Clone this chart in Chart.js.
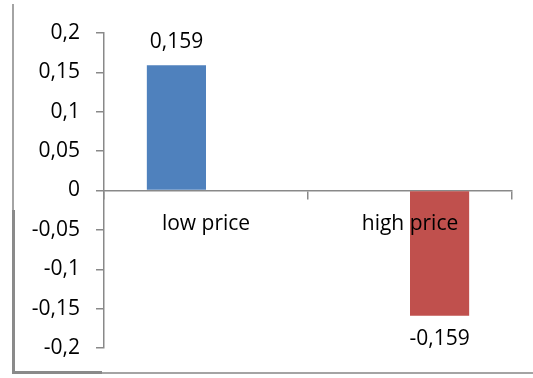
<!DOCTYPE html>
<html lang="en">
<head>
    <meta charset="utf-8">
    <script src="https://cdn.jsdelivr.net/npm/chart.js"></script>
    <title>low / high price</title>
    <style>
        html, body {
            margin: 0;
            padding: 0;
            background: white;
        }
        #wrap {
            width: 533px;
            height: 378px;
        }
    </style>
</head>
<body>
    <div id="wrap">
        <canvas id="barCanvas" width="533" height="378"></canvas>
    </div>
    <script>
        var categories = ["low price", "high price"];
        var lowValues = [0.159, null];
        var highValues = [null, -0.159];
        var yTicks = [-0.2, -0.15, -0.1, -0.05, 0, 0.05, 0.1, 0.15, 0.2];

        var axisColor = "#898989";
        var textFont = { family: "'Open Sans', sans-serif", size: 21 };

        function decimalComma(v) {
            return String(+Number(v).toFixed(3)).replace(".", ",");
        }

        // value text above positive bars and below negative ones
        var valueLabels = {
            id: "valueLabels",
            afterDatasetsDraw: function(chart) {
                var ctx = chart.ctx;
                ctx.save();
                ctx.font = textFont.size + "px " + textFont.family;
                ctx.fillStyle = "#000";
                ctx.textAlign = "center";
                chart.data.datasets.forEach(function(ds, i) {
                    chart.getDatasetMeta(i).data.forEach(function(bar, j) {
                        var v = ds.data[j];
                        if (v === null || v === undefined) return;
                        if (v >= 0) {
                            ctx.textBaseline = "alphabetic";
                            ctx.fillText(decimalComma(v), bar.x, bar.y - 17);
                        } else {
                            ctx.textBaseline = "top";
                            ctx.fillText(decimalComma(v), bar.x, bar.y + 13);
                        }
                    });
                });
                ctx.restore();
            }
        };

        // frame lines along the left and bottom edge
        var frame = {
            id: "frame",
            afterDraw: function(chart) {
                var ctx = chart.ctx;
                ctx.save();
                ctx.fillStyle = "#a4a4a4";
                ctx.fillRect(12, 4, 2, 206);
                ctx.fillRect(102, 372, 431, 2);
                ctx.fillStyle = "#8a8a8a";
                ctx.fillRect(12, 210, 3, 164);
                ctx.fillRect(12, 371, 90, 3);
                ctx.restore();
            }
        };

        var ctx = document.getElementById("barCanvas").getContext("2d");
        var chart = new Chart(ctx, {
            type: "bar",
            data: {
                labels: categories,
                datasets: [
                    {
                        label: "low",
                        data: lowValues,
                        backgroundColor: "#4F81BD",
                        barPercentage: 1,
                        categoryPercentage: 0.58
                    },
                    {
                        label: "high",
                        data: highValues,
                        backgroundColor: "#C0504D",
                        barPercentage: 1,
                        categoryPercentage: 0.58
                    }
                ]
            },
            options: {
                responsive: false,
                animation: false,
                layout: {
                    padding: { left: 0, top: 33, right: 21, bottom: 30 }
                },
                plugins: {
                    legend: { display: false },
                    tooltip: { enabled: false }
                },
                scales: {
                    x: {
                        position: { y: 0 },
                        grid: {
                            offset: true,
                            drawOnChartArea: false,
                            tickLength: 8,
                            color: axisColor,
                            lineWidth: 1.5
                        },
                        border: { color: axisColor, width: 1.5 },
                        ticks: {
                            // category names sit on top of the bars
                            z: 1,
                            color: "#000",
                            font: textFont,
                            padding: 13,
                            maxRotation: 0
                        }
                    },
                    y: {
                        min: yTicks[0],
                        max: yTicks[yTicks.length - 1],
                        afterFit: function(scale) {
                            scale.width = 104;
                        },
                        afterBuildTicks: function(scale) {
                            scale.ticks = yTicks.map(function(v) { return { value: v }; });
                        },
                        grid: {
                            drawOnChartArea: false,
                            tickLength: 8,
                            color: axisColor,
                            lineWidth: 1.5
                        },
                        border: { color: axisColor, width: 1.5 },
                        ticks: {
                            color: "#000",
                            font: textFont,
                            padding: 16,
                            callback: function(v) { return decimalComma(v); }
                        }
                    }
                }
            },
            plugins: [frame, valueLabels]
        });
    </script>
</body>
</html>
